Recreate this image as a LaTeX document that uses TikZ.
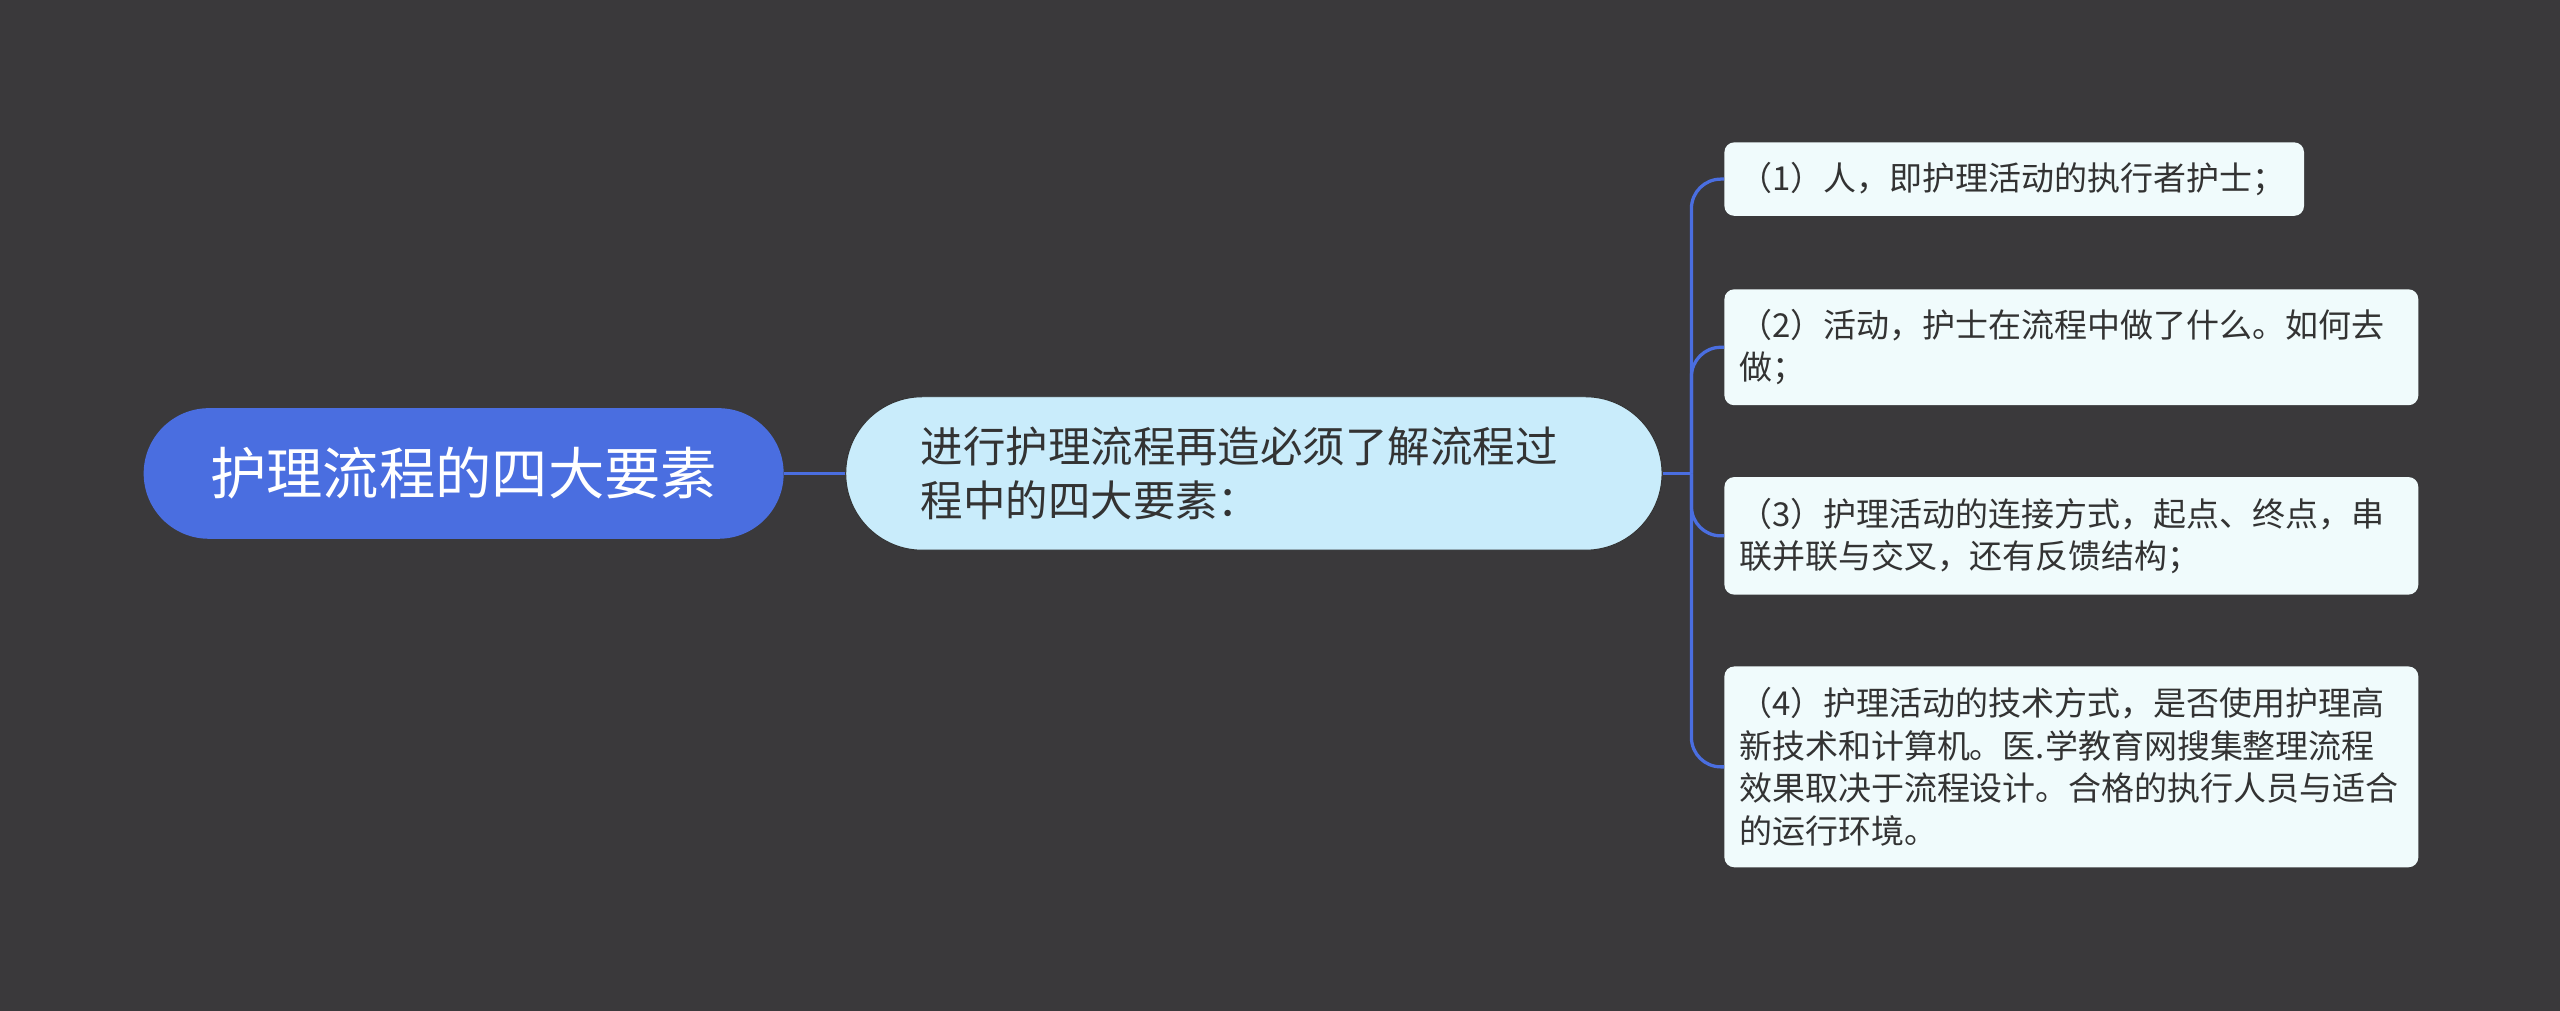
\documentclass[tikz,border=0pt]{standalone}
\usepackage{fontspec}
\newfontfamily\cjk{Noto Sans CJK SC}
\definecolor{bg}{HTML}{3A393B}
\definecolor{rootc}{HTML}{4A6EE0}
\definecolor{midc}{HTML}{C9ECFB}
\definecolor{leafc}{HTML}{F0FBFC}
\definecolor{txt}{HTML}{333333}
\tikzset{
 leaf/.style={fill=leafc,rounded corners=6pt,anchor=north west,align=left,text=txt,font=\cjk\fontsize{20.2}{26}\selectfont,inner xsep=9pt,inner ysep=0pt},
 conn/.style={draw=rootc,line width=2pt}
}
\begin{document}
\begin{tikzpicture}[x=1pt,y=-1pt]
\fill[bg] (0,0) rectangle (1568,619);
\useasboundingbox (0,0) rectangle (1568,619);
\node[fill=rootc,rounded corners=40pt,minimum width=392pt,minimum height=80pt,text=white,font=\cjk\fontsize{34.5}{40}\selectfont] (root) at (284,290) {护理流程的四大要素};
\node[fill=midc,draw=txt,line width=0.6pt,rounded corners=47pt,minimum width=500pt,minimum height=94pt,text=txt,font=\cjk\fontsize{26}{33}\selectfont,align=left,text width=408pt] (mid) at (768,290) {进行护理流程再造必须了解流程过\\程中的四大要素：};
\draw[conn] (root.east) -- (mid.west);
\path (1056,87) node[leaf,minimum width=355pt,minimum height=45pt,text width=337pt] (l1) {（1）人，即护理活动的执行者护士；};
\path (1056,177) node[leaf,minimum width=425pt,minimum height=71pt,text width=407pt] (l2) {（2）活动，护士在流程中做了什么。如何去\\做；};
\path (1056,292) node[leaf,minimum width=425pt,minimum height=72pt,text width=407pt] (l3) {（3）护理活动的连接方式，起点、终点，串\\联并联与交叉，还有反馈结构；};
\path (1056,408) node[leaf,minimum width=425pt,minimum height=123pt,text width=407pt] (l4) {（4）护理活动的技术方式，是否使用护理高\\新技术和计算机。医.学教育网搜集整理流程\\效果取决于流程设计。合格的执行人员与适合\\的运行环境。};
\coordinate (j) at (1036,290);
\draw[conn] (mid.east) -- (j);
\foreach \n in {l1,l2,l3,l4}{
 \draw[conn,rounded corners=18pt] (j) -- (j |- \n.west) -- (\n.west);
}
\end{tikzpicture}
\end{document}
